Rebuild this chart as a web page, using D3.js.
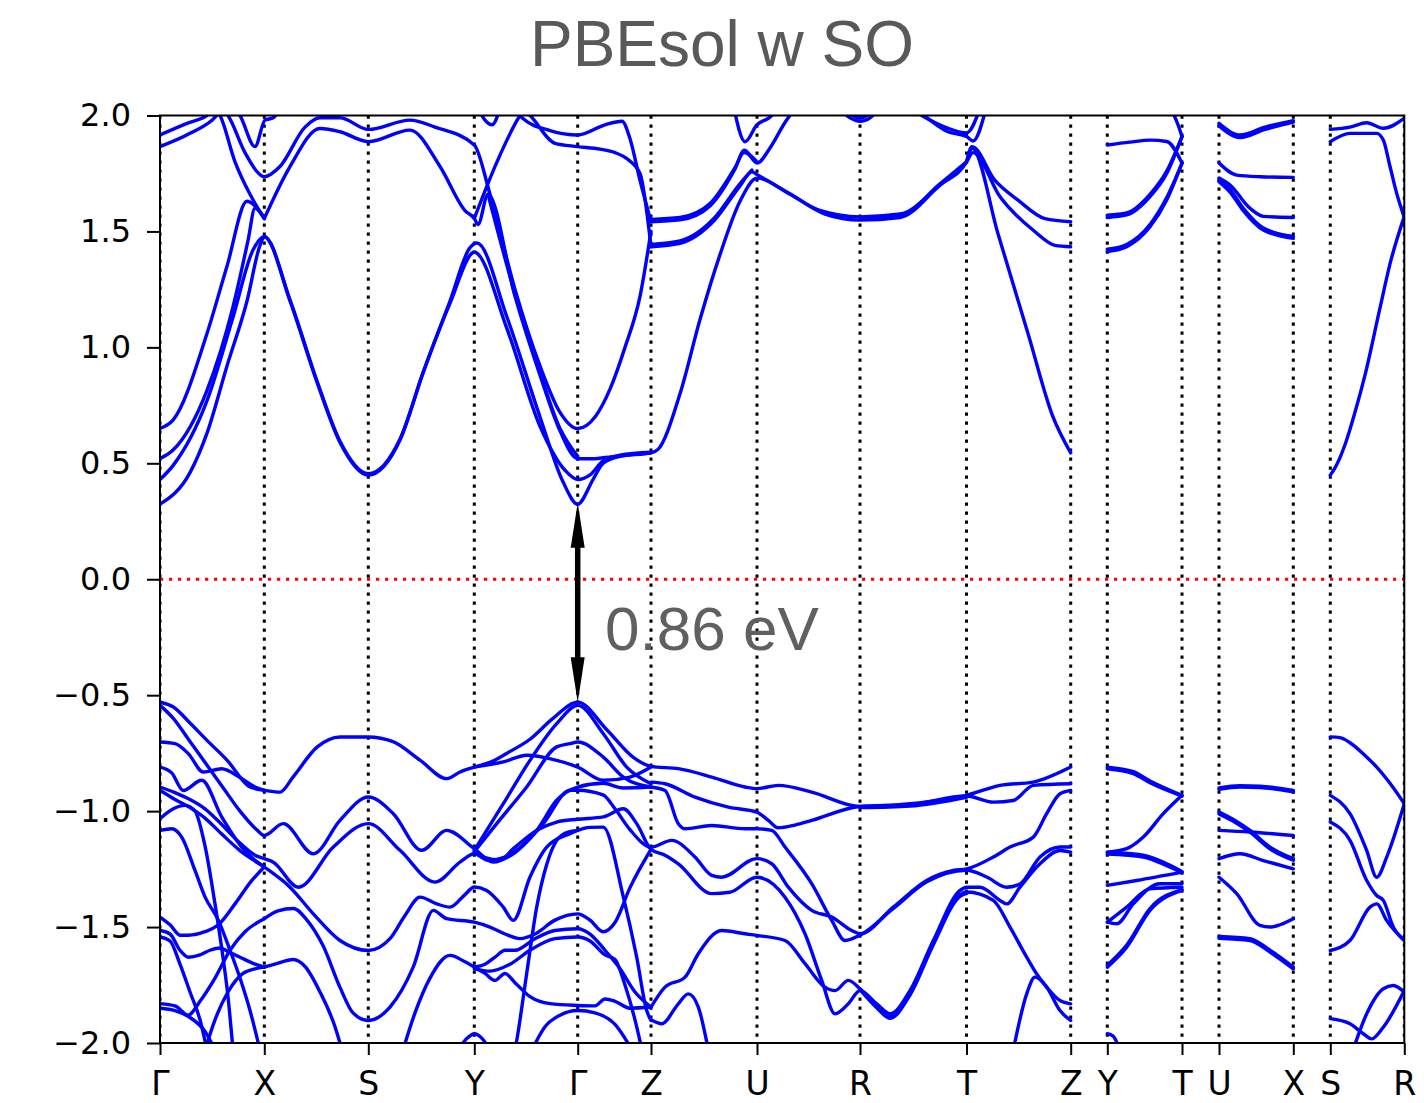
<!DOCTYPE html>
<html>
<head>
<meta charset="utf-8">
<script src="https://cdn.jsdelivr.net/npm/d3@7"></script>
<style>
body { margin: 0; background: #fff; }
</style>
</head>
<body>
<div id="chart"></div>
<script>
// high symmetry points along the k-path
var kLabels = ["Γ","X","S","Y","Γ","Z","U","R","T","Z","Y","T","U","X","S","R"];
var kTicks = [0, 1.043, 2.083, 3.143, 4.177, 4.91, 5.97, 7.0, 8.065, 9.107, 9.473, 10.22, 10.59, 11.333, 11.703, 12.443];
var energyTicks = [-2.0, -1.5, -1.0, -0.5, 0.0, 0.5, 1.0, 1.5, 2.0];

// band gap at Γ
var cbm = 0.33, vbm = -0.53;
var gapLabel = "0.86 eV";

// conduction bands, path Γ-X-S-Y-Γ-Z-U-R-T-Z
var cbMain = [
  [[0,0.324],[0.3,0.46],[0.47,0.63],[0.67,0.92],[0.87,1.20],[1.0,1.44],[1.043,1.477],[1.3,1.20],[1.57,0.85],[1.80,0.59],[2.083,0.449],[2.4,0.60],[2.63,0.89],[2.90,1.20],[3.1,1.43],[3.17,1.45],[3.47,1.13],[3.80,0.70],[4.03,0.42],[4.177,0.324],[4.33,0.43],[4.43,0.50],[4.60,0.53],[4.91,0.545],[4.98,0.56],[5.2,0.80],[5.4,1.12],[5.6,1.40],[5.8,1.63],[5.97,1.73],[6.3,1.66],[6.65,1.575],[7.0,1.549],[7.4,1.56],[7.8,1.70],[8.065,1.80],[8.12,1.86],[8.38,1.49],[8.68,1.06],[8.93,0.70],[9.107,0.545]],
  [[0,0.43],[0.13,0.49],[0.47,0.77],[0.73,1.13],[0.93,1.42],[1.043,1.477],[1.3,1.205],[1.57,0.855],[1.80,0.595],[2.083,0.455],[2.4,0.605],[2.63,0.89],[2.9,1.19],[3.143,1.41],[3.47,1.08],[3.80,0.66],[4.05,0.47],[4.177,0.43],[4.30,0.45],[4.43,0.51],[4.6,0.535],[4.91,0.548]],
  [[0,0.52],[0.13,0.557],[0.47,0.815],[0.73,1.175],[0.88,1.46],[0.95,1.60],[1.043,1.556]],
  [[0,0.65],[0.13,0.686],[0.47,1.06],[0.67,1.35],[0.87,1.63],[0.95,1.61],[1.043,1.556]],
  [[1.043,1.556],[1.3,1.78],[1.6,1.944],[1.8,1.93],[2.083,1.887],[2.5,1.937],[2.8,1.78],[3.05,1.59],[3.143,1.556],[3.18,1.53],[3.28,1.66],[3.55,1.22],[3.80,0.88],[4.0,0.64],[4.177,0.52],[4.35,0.52],[4.45,0.525],[4.91,0.545]],
  [[3.28,1.66],[3.55,1.23],[3.80,0.89],[4.0,0.65],[4.177,0.53]],
  [[0.62,2.03],[0.68,2.0],[0.85,1.84],[1.0,1.745],[1.043,1.736],[1.2,1.78],[1.45,1.95],[1.6,1.99],[1.8,1.99],[2.083,1.94],[2.5,1.98],[2.75,1.95],[3.143,1.873],[3.30,1.66],[3.55,1.25],[3.80,0.92],[4.0,0.72],[4.177,0.65],[4.35,0.70],[4.50,0.82],[4.65,1.00],[4.80,1.22],[4.91,1.50]],
  [[0,1.916],[0.27,1.966],[0.47,2.0],[0.55,2.03]],
  [[0,1.866],[0.3,1.923],[0.567,2.0],[0.62,2.03]],
  [[0.75,2.03],[0.80,2.0],[0.95,1.866],[1.05,1.98],[1.133,1.99],[1.2,2.03]],
  [[0.55,2.03],[0.60,2.0],[0.75,1.80],[0.90,1.66],[1.043,1.556]],
  [[3.18,2.03],[3.25,1.98],[3.32,1.96],[3.40,2.03]],
  [[3.143,1.556],[3.37,1.80],[3.60,2.0],[3.65,2.03]],
  [[3.55,2.03],[3.62,1.99],[3.9,1.935],[4.177,1.916],[4.45,1.96],[4.62,1.975],[4.70,1.90],[4.80,1.72],[4.91,1.542]],
  [[3.62,2.03],[3.70,2.0],[3.95,1.88],[4.177,1.866],[4.4,1.855],[4.55,1.84],[4.68,1.81],[4.80,1.75],[4.91,1.434]],
  [[4.91,1.542],[5.2,1.55],[5.5,1.61],[5.745,1.765],[5.845,1.85],[5.97,1.795],[6.1,1.86],[6.25,1.97],[6.35,2.03]],
  [[4.91,1.552],[5.2,1.56],[5.5,1.62],[5.75,1.775],[5.84,1.84],[5.97,1.80]],
  [[4.91,1.434],[5.2,1.449],[5.546,1.549],[5.795,1.693],[5.92,1.757],[5.97,1.745],[6.29,1.665],[6.59,1.592],[7.0,1.563],[7.4,1.575],[7.8,1.70],[8.065,1.80],[8.13,1.84],[8.4,1.65],[8.73,1.506],[8.95,1.44],[9.107,1.434]],
  [[4.91,1.444],[5.2,1.459],[5.546,1.559],[5.795,1.703],[5.92,1.765]],
  [[7.0,1.556],[7.4,1.568],[7.8,1.705],[8.065,1.80]],
  [[8.065,1.80],[8.12,1.865],[8.35,1.72],[8.58,1.635],[8.85,1.555],[9.107,1.542]],
  [[6.79,2.03],[6.9,1.99],[7.0,1.975],[7.1,1.99],[7.19,2.03]],
  [[6.85,2.03],[7.0,1.988],[7.15,2.03]],
  [[7.56,2.03],[7.88,1.93],[8.065,1.909],[8.13,1.89],[8.26,2.03]],
  [[7.5,2.03],[7.85,1.95],[8.065,1.925],[8.2,2.03]],
  [[5.74,2.03],[5.85,1.887],[5.97,1.96],[6.09,1.99],[6.19,2.03]]
];

// conduction bands, Y-T, U-X, S-R
var cbYT = [
  [[9.473,1.873],[9.7,1.885],[9.9,1.894],[10.067,1.888],[10.22,1.795]],
  [[9.473,1.56],[9.667,1.571],[9.9,1.65],[10.067,1.75],[10.22,1.909]],
  [[9.473,1.57],[9.667,1.58],[9.9,1.66],[10.067,1.76],[10.22,1.909]],
  [[9.473,1.413],[9.667,1.434],[9.9,1.52],[10.067,1.636],[10.22,1.795]],
  [[9.473,1.423],[9.667,1.444],[9.9,1.53],[10.067,1.646],[10.22,1.795]],
  [[10.11,2.03],[10.18,1.96],[10.22,1.909]]
];
var cbUX = [
  [[10.59,1.966],[10.8,1.916],[11.05,1.95],[11.333,1.978]],
  [[10.59,1.955],[10.8,1.905],[11.05,1.94],[11.333,1.972]],
  [[10.59,1.795],[10.767,1.743],[11.0,1.736],[11.333,1.733]],
  [[10.59,1.73],[10.70,1.70],[10.90,1.60],[11.033,1.565],[11.333,1.56]],
  [[10.59,1.715],[10.70,1.67],[10.833,1.59],[11.033,1.506],[11.333,1.47]],
  [[10.59,1.72],[10.70,1.68],[10.833,1.60],[11.033,1.515],[11.333,1.478]]
];
var cbSR = [
  [[11.703,1.94],[11.9,1.95],[12.067,1.969],[12.233,1.945],[12.443,1.988]],
  [[11.703,1.887],[11.9,1.923],[12.167,1.923],[12.233,1.894],[12.3,1.78],[12.367,1.664],[12.443,1.56]],
  [[11.703,0.449],[11.75,0.48],[11.85,0.58],[11.95,0.72],[12.05,0.88],[12.2,1.17],[12.3,1.36],[12.443,1.565]]
];

// valence bands, path Γ-X-S-Y-Γ-Z-U-R-T-Z
var vbMain = [
  [[0,-0.53],[0.13,-0.55],[0.30,-0.62],[0.47,-0.695],[0.67,-0.78],[0.90,-0.896],[1.043,-0.91],[1.20,-0.918],[1.33,-0.853],[1.57,-0.724],[1.80,-0.68],[2.083,-0.68],[2.33,-0.70],[2.60,-0.78],[2.87,-0.86],[3.0,-0.831],[3.143,-0.81],[3.30,-0.79],[3.47,-0.75],[3.70,-0.69],[3.93,-0.60],[4.177,-0.53],[4.47,-0.65],[4.73,-0.767],[4.91,-0.807],[5.183,-0.817],[5.517,-0.853],[5.85,-0.896],[5.97,-0.903],[6.183,-0.889],[6.517,-0.918],[7.0,-0.98],[7.5,-0.968],[8.065,-0.932],[8.40,-0.889],[8.73,-0.875],[9.107,-0.81]],
  [[0,-0.544],[0.133,-0.60],[0.30,-0.70],[0.467,-0.80],[0.633,-0.90],[0.80,-1.00],[0.967,-1.08],[1.043,-1.105],[1.233,-1.054],[1.533,-1.184],[1.80,-1.04],[2.083,-0.939],[2.333,-1.011],[2.617,-1.169],[2.867,-1.083],[3.143,-1.162],[3.333,-1.22],[3.533,-1.184],[3.833,-1.054],[4.1,-0.91],[4.177,-0.91],[4.43,-0.93],[4.55,-0.99],[4.70,-1.08],[4.91,-1.155],[5.117,-1.126],[5.35,-1.198],[5.517,-1.277],[5.617,-1.285],[5.967,-1.205],[6.117,-1.227],[6.283,-1.328],[6.517,-1.428],[6.717,-1.457],[6.917,-1.515],[7.0,-1.529],[7.333,-1.414],[7.667,-1.299],[7.933,-1.256],[8.067,-1.249],[8.333,-1.198],[8.5,-1.155],[8.733,-1.112],[8.867,-1.011],[9.0,-0.925],[9.107,-0.911]],
  [[0,-0.702],[0.15,-0.709],[0.283,-0.752],[0.433,-0.831],[0.617,-0.817],[0.80,-0.855],[0.95,-0.896],[1.043,-0.91]],
  [[0,-0.81],[0.117,-0.835],[0.233,-0.911],[0.417,-0.867],[0.617,-1.025],[0.817,-1.155],[0.95,-1.212],[1.043,-1.241],[1.30,-1.328],[1.533,-1.443],[1.80,-1.558],[2.083,-1.601],[2.3,-1.55],[2.45,-1.45],[2.6,-1.371],[2.767,-1.40],[2.9,-1.414],[3.05,-1.36],[3.143,-1.327],[3.267,-1.342],[3.433,-1.414],[3.533,-1.471],[3.70,-1.284],[3.867,-1.155],[4.1,-1.097],[4.177,-1.083],[4.30,-1.07],[4.433,-1.069],[4.633,-1.37],[4.767,-1.63],[4.867,-1.86],[4.91,-1.903]],
  [[0,-0.896],[0.15,-0.92],[0.30,-0.95],[0.45,-0.99],[0.60,-1.05],[0.78,-1.13],[0.95,-1.19],[1.043,-1.205],[1.133,-1.22],[1.383,-1.328],[1.733,-1.155],[2.083,-1.054],[2.4,-1.169],[2.75,-1.306],[3.0,-1.22],[3.143,-1.184],[3.283,-1.212],[3.45,-1.198],[3.767,-1.083],[3.967,-0.953],[4.177,-0.896],[4.43,-0.88],[4.63,-0.90],[4.91,-0.896]],
  [[3.143,-1.169],[3.433,-0.968],[3.70,-0.781],[3.967,-0.623],[4.177,-0.544],[4.433,-0.666],[4.667,-0.81],[4.91,-0.882]],
  [[3.143,-1.175],[3.367,-1.054],[3.667,-0.896],[3.967,-0.723],[4.1,-0.709],[4.177,-0.702],[4.433,-0.767],[4.633,-0.853],[4.91,-0.896]],
  [[3.143,-0.81],[3.433,-0.788],[3.667,-0.759],[3.967,-0.781],[4.177,-0.81],[4.433,-0.867],[4.70,-0.853],[4.91,-0.81]],
  [[3.143,-1.17],[3.25,-1.20],[3.40,-1.21],[3.533,-1.162],[3.767,-1.083],[3.967,-1.047],[4.177,-1.035],[4.433,-1.025],[4.633,-0.99],[4.767,-1.054],[4.91,-1.165],[5.05,-1.19],[5.183,-1.227],[5.517,-1.356],[5.7,-1.35],[5.967,-1.285],[6.25,-1.371],[6.45,-1.529],[6.617,-1.73],[6.75,-1.874],[6.883,-1.831],[7.0,-1.774],[7.167,-1.831],[7.3,-1.874],[7.5,-1.774],[7.733,-1.558],[8.0,-1.342],[8.067,-1.328],[8.2,-1.328],[8.4,-1.385],[8.467,-1.40],[8.6,-1.328],[8.8,-1.227],[9.0,-1.17],[9.107,-1.177]],
  [[0,-1.033],[0.133,-0.99],[0.25,-0.975],[0.35,-1.0],[0.45,-1.15],[0.55,-1.40],[0.62,-1.60],[0.68,-1.80],[0.73,-2.03]],
  [[0,-1.083],[0.117,-1.076],[0.217,-1.112],[0.35,-1.256],[0.45,-1.37],[0.583,-1.47],[0.70,-1.60],[0.80,-1.72],[0.90,-1.86],[1.0,-2.03]],
  [[0,-1.457],[0.10,-1.49],[0.20,-1.535],[0.283,-1.535],[0.45,-1.52],[0.583,-1.49],[0.75,-1.40],[0.917,-1.30],[1.043,-1.241]],
  [[0,-1.515],[0.10,-1.53],[0.20,-1.60],[0.283,-1.63],[0.40,-1.62],[0.50,-1.60],[0.60,-1.59],[0.70,-1.61],[0.80,-1.63],[0.95,-1.66],[1.043,-1.673]],
  [[0,-1.543],[0.10,-1.56],[0.20,-1.66],[0.30,-1.78],[0.40,-1.90],[0.47,-2.03]],
  [[0,-1.83],[0.15,-1.84],[0.283,-1.88],[0.40,-1.82],[0.55,-1.72],[0.70,-1.60],[0.85,-1.52],[1.043,-1.464]],
  [[0,-1.85],[0.15,-1.86],[0.30,-1.89],[0.45,-1.95],[0.55,-2.03]],
  [[0.45,-2.03],[0.55,-1.90],[0.68,-1.78],[0.83,-1.70],[0.95,-1.68],[1.043,-1.673]],
  [[1.043,-1.464],[1.18,-1.43],[1.333,-1.42],[1.47,-1.47],[1.63,-1.58],[1.80,-1.76],[1.93,-1.87],[2.083,-1.903],[2.3,-1.845],[2.533,-1.672],[2.733,-1.428],[2.867,-1.464],[3.143,-1.479],[3.3,-1.50],[3.45,-1.53],[3.6,-1.55],[3.75,-1.53],[3.95,-1.47],[4.177,-1.443],[4.3,-1.47],[4.43,-1.52],[4.55,-1.48],[4.70,-1.33],[4.91,-1.165]],
  [[1.043,-1.673],[1.15,-1.66],[1.333,-1.64],[1.45,-1.67],[1.60,-1.78],[1.75,-1.93],[1.82,-2.03]],
  [[2.43,-2.03],[2.55,-1.87],[2.70,-1.72],[2.90,-1.622],[3.05,-1.65],[3.143,-1.672],[3.25,-1.70],[3.35,-1.73],[3.45,-1.70],[3.55,-1.74],[3.70,-1.80],[3.90,-1.83],[4.177,-1.838],[4.35,-1.84],[4.45,-1.81],[4.55,-1.82],[4.70,-1.85],[4.91,-1.845]],
  [[2.98,-2.03],[3.07,-1.98],[3.143,-1.96],[3.22,-1.98],[3.30,-2.03]],
  [[3.55,-2.03],[3.567,-1.99],[3.667,-1.70],[3.767,-1.414],[3.867,-1.23],[3.967,-1.126],[4.08,-1.09],[4.177,-1.083]],
  [[3.143,-1.672],[3.25,-1.66],[3.35,-1.63],[3.45,-1.60],[3.55,-1.60],[3.75,-1.55],[3.95,-1.515],[4.177,-1.507],[4.3,-1.53],[4.45,-1.60],[4.6,-1.68],[4.75,-1.78],[4.91,-1.845]],
  [[3.143,-1.68],[3.3,-1.69],[3.5,-1.66],[3.7,-1.60],[3.95,-1.55],[4.177,-1.543],[4.3,-1.56],[4.45,-1.62],[4.55,-1.64],[4.65,-1.75],[4.75,-1.90],[4.82,-2.03]],
  [[3.72,-2.03],[3.85,-1.93],[4.0,-1.88],[4.177,-1.86],[4.35,-1.87],[4.55,-1.92],[4.72,-2.03]],
  [[0,-0.91],[0.15,-0.95],[0.30,-0.985],[0.45,-1.03],[0.62,-1.10],[0.80,-1.17],[0.95,-1.215],[1.043,-1.24]],
  [[4.91,-1.845],[5.05,-1.759],[5.25,-1.716],[5.383,-1.615],[5.617,-1.515],[5.85,-1.529],[5.967,-1.536],[6.25,-1.558],[6.45,-1.658],[6.65,-1.759],[6.75,-1.774],[6.883,-1.73],[7.0,-1.766],[7.167,-1.84],[7.3,-1.885],[7.5,-1.785],[7.733,-1.568],[8.0,-1.36],[8.067,-1.349],[8.333,-1.385],[8.5,-1.50],[8.667,-1.63],[8.767,-1.702],[8.867,-1.759],[9.0,-1.817],[9.107,-1.831]],
  [[7.0,-1.77],[7.167,-1.848],[7.3,-1.893],[7.5,-1.793],[7.733,-1.576],[8.0,-1.368],[8.067,-1.355]],
  [[4.91,-0.875],[5.05,-0.882],[5.35,-0.94],[5.683,-0.983],[5.967,-1.004],[6.083,-1.04],[6.183,-1.072],[6.35,-1.06],[6.517,-1.04],[7.0,-0.98],[7.5,-0.972],[8.065,-0.935],[8.333,-0.961],[8.533,-0.954],[8.733,-0.889],[9.107,-0.882]],
  [[7.0,-0.985],[7.5,-0.978],[8.065,-0.94]],
  [[4.91,-0.896],[5.05,-0.911],[5.183,-1.054],[5.25,-1.076],[5.517,-1.062],[5.85,-1.076],[5.967,-1.076],[6.117,-1.083],[6.25,-1.155],[6.517,-1.313],[6.717,-1.471],[6.85,-1.558],[7.0,-1.535],[7.333,-1.42],[7.667,-1.305],[8.067,-1.255],[8.267,-1.284],[8.467,-1.328],[8.6,-1.314],[8.8,-1.198],[9.0,-1.155],[9.107,-1.155]],
  [[4.91,-1.90],[5.017,-1.917],[5.183,-1.831],[5.283,-1.788],[5.383,-1.845],[5.483,-2.03]],
  [[8.533,-2.03],[8.667,-1.788],[8.75,-1.716],[8.867,-1.759],[9.0,-1.86],[9.107,-1.903]]
];

// valence bands, Y-T, U-X, S-R
var vbYT = [
  [[9.473,-0.81],[9.733,-0.83],[9.9,-0.87],[10.22,-0.932]],
  [[9.473,-0.817],[9.733,-0.838],[9.9,-0.878],[10.22,-0.935]],
  [[9.473,-1.177],[9.667,-1.162],[9.833,-1.112],[10.033,-1.011],[10.22,-0.932]],
  [[9.473,-1.177],[9.833,-1.19],[10.067,-1.227],[10.22,-1.26]],
  [[9.473,-1.185],[9.833,-1.198],[10.067,-1.235],[10.22,-1.265]],
  [[9.473,-1.32],[9.767,-1.299],[10.22,-1.263]],
  [[9.473,-1.479],[9.567,-1.486],[9.733,-1.40],[10.0,-1.313],[10.22,-1.313]],
  [[9.473,-1.479],[9.667,-1.414],[9.9,-1.335],[10.22,-1.328]],
  [[9.473,-1.673],[9.667,-1.587],[9.9,-1.428],[10.22,-1.342]],
  [[9.473,-1.665],[9.667,-1.578],[9.9,-1.42],[10.22,-1.338]],
  [[9.473,-1.96],[9.53,-1.97],[9.6,-2.03]]
];
var vbUX = [
  [[10.59,-0.90],[10.8,-0.89],[11.0,-0.892],[11.333,-0.911]],
  [[10.59,-0.906],[10.8,-0.896],[11.0,-0.898],[11.333,-0.917]],
  [[10.59,-1.004],[10.75,-1.04],[10.9,-1.083],[11.1,-1.155],[11.333,-1.205]],
  [[10.59,-1.012],[10.75,-1.048],[10.9,-1.091],[11.1,-1.163],[11.333,-1.212]],
  [[10.59,-1.083],[10.9,-1.09],[11.333,-1.105]],
  [[10.59,-1.205],[10.8,-1.184],[11.033,-1.213],[11.333,-1.249]],
  [[10.59,-1.285],[10.767,-1.356],[11.0,-1.493],[11.1,-1.50],[11.2,-1.49],[11.333,-1.464]],
  [[10.59,-1.54],[10.9,-1.55],[11.1,-1.60],[11.333,-1.673]],
  [[10.59,-1.548],[10.9,-1.558],[11.1,-1.608],[11.333,-1.68]]
];
var vbSR = [
  [[11.703,-0.68],[11.8,-0.683],[11.9,-0.705],[12.05,-0.76],[12.167,-0.81],[12.3,-0.88],[12.443,-0.968]],
  [[11.703,-0.932],[11.9,-1.011],[12.067,-1.17],[12.167,-1.285],[12.267,-1.198],[12.443,-0.968]],
  [[11.703,-1.047],[11.9,-1.126],[12.067,-1.299],[12.167,-1.364],[12.233,-1.385],[12.333,-1.50],[12.443,-1.558]],
  [[11.703,-1.601],[11.9,-1.558],[12.1,-1.414],[12.167,-1.40],[12.267,-1.472],[12.443,-1.558]],
  [[11.703,-1.895],[11.9,-1.917],[12.033,-1.96],[12.117,-1.982],[12.233,-1.932],[12.443,-1.774]],
  [[11.93,-2.03],[12.067,-1.874],[12.233,-1.766],[12.333,-1.752],[12.443,-1.781]]
];

var width = 1424, height = 1103;
var plotLeft = 160, plotRight = 1404.3, plotTop = 115.5, plotBottom = 1043;
var bandColor = "#0000ff";

var svg = d3.select("#chart").append("svg")
  .attr("width", width)
  .attr("height", height)
  .style("font-family", "'DejaVu Sans', sans-serif");

var x = d3.scaleLinear().domain([0, kTicks[kTicks.length - 1]]).range([plotLeft, plotRight]);
var y = d3.scaleLinear().domain([-2, 2]).range([plotBottom, plotTop]);

svg.append("defs").append("clipPath").attr("id", "plotClip")
  .append("rect")
  .attr("x", plotLeft).attr("y", plotTop)
  .attr("width", plotRight - plotLeft).attr("height", plotBottom - plotTop);

var plot = svg.append("g").attr("clip-path", "url(#plotClip)");

// dotted lines at the high symmetry points
plot.selectAll(".kline")
  .data(kTicks)
  .enter().append("line")
  .attr("class", "kline")
  .attr("x1", function(d) { return x(d); })
  .attr("x2", function(d) { return x(d); })
  .attr("y1", plotTop)
  .attr("y2", plotBottom)
  .attr("stroke", "#000")
  .attr("stroke-width", 3)
  .attr("stroke-dasharray", "3.2,5.8");

// Fermi level
plot.append("line")
  .attr("x1", plotLeft).attr("x2", plotRight)
  .attr("y1", y(0)).attr("y2", y(0))
  .attr("stroke", "red")
  .attr("stroke-width", 3)
  .attr("stroke-dasharray", "3.2,5.8");

var line = d3.line()
  .x(function(d) { return x(d[0]); })
  .y(function(d) { return y(d[1]); })
  .curve(d3.curveMonotoneX);

var allBands = [].concat(cbMain, cbYT, cbUX, cbSR, vbMain, vbYT, vbUX, vbSR);

plot.selectAll(".band")
  .data(allBands)
  .enter().append("path")
  .attr("class", "band")
  .attr("d", line)
  .attr("fill", "none")
  .attr("stroke", bandColor)
  .attr("stroke-width", 3.4)
  .attr("stroke-linejoin", "round")
  .attr("stroke-linecap", "round");

// gap arrow
var ax = x(kTicks[4]);
var yTop = y(cbm), yBot = y(vbm);
var headLen = 45, headHalf = 7;
var arrow = svg.append("g");
arrow.append("line")
  .attr("x1", ax).attr("x2", ax)
  .attr("y1", yTop + headLen - 2).attr("y2", yBot - headLen + 2)
  .attr("stroke", "#000").attr("stroke-width", 5.5);
arrow.append("path")
  .attr("d", "M" + ax + "," + yTop + "L" + (ax + headHalf) + "," + (yTop + headLen) + "L" + (ax - headHalf) + "," + (yTop + headLen) + "Z")
  .attr("fill", "#000");
arrow.append("path")
  .attr("d", "M" + ax + "," + yBot + "L" + (ax + headHalf) + "," + (yBot - headLen) + "L" + (ax - headHalf) + "," + (yBot - headLen) + "Z")
  .attr("fill", "#000");

svg.append("text")
  .attr("x", x(4.45))
  .attr("y", y(-0.306))
  .attr("font-family", "'Liberation Sans', Arial, sans-serif")
  .attr("font-size", 62)
  .attr("fill", "#606060")
  .text(gapLabel);

// frame
svg.append("rect")
  .attr("x", plotLeft).attr("y", plotTop)
  .attr("width", plotRight - plotLeft).attr("height", plotBottom - plotTop)
  .attr("fill", "none")
  .attr("stroke", "#000")
  .attr("stroke-width", 2);

// axes
var yAxis = svg.append("g")
  .attr("transform", "translate(" + plotLeft + ",0)")
  .call(d3.axisLeft(y).tickValues(energyTicks).tickFormat(d3.format(".1f")).tickSize(13).tickPadding(16));
yAxis.select(".domain").remove();
yAxis.selectAll("line").attr("stroke-width", 2);
yAxis.selectAll("text").attr("font-size", 32).attr("font-family", "'DejaVu Sans', sans-serif").attr("fill", "#000");

var xAxis = svg.append("g")
  .attr("transform", "translate(0," + plotBottom + ")")
  .call(d3.axisBottom(x).tickValues(kTicks).tickFormat(function(d, i) { return kLabels[i]; }).tickSize(12).tickPadding(17));
xAxis.select(".domain").remove();
xAxis.selectAll("line").attr("stroke-width", 2);
xAxis.selectAll("text").attr("font-size", 33).attr("font-family", "'DejaVu Sans', sans-serif").attr("fill", "#000");

// title
svg.append("text")
  .attr("x", 722)
  .attr("y", 66)
  .attr("text-anchor", "middle")
  .attr("font-family", "'Liberation Sans', Arial, sans-serif")
  .attr("font-size", 64)
  .attr("fill", "#595959")
  .text("PBEsol w SO");
</script>
</body>
</html>
